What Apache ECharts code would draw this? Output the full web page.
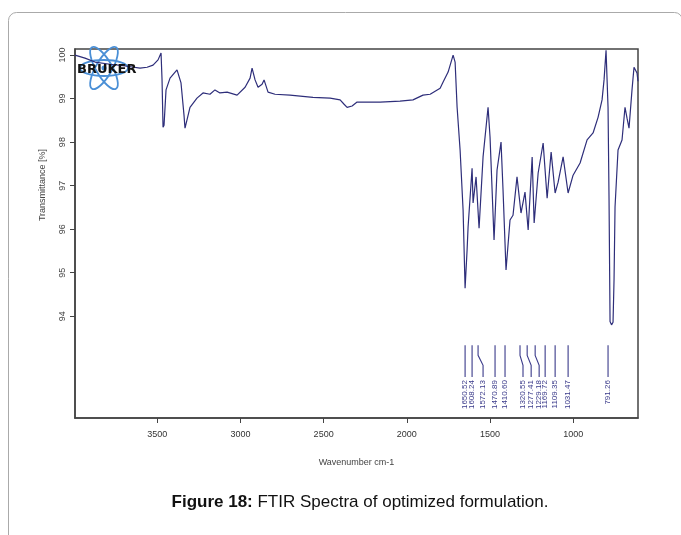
<!DOCTYPE html>
<html>
<head>
<meta charset="utf-8">
<script src="https://cdn.jsdelivr.net/npm/echarts@6/dist/echarts.min.js"></script>
<style>
html,body{margin:0;padding:0;background:#fff;}
#chart{width:681px;height:535px;}
</style>
</head>
<body>
<div id="chart"></div>
<script>
// Wavenumber (cm-1) and transmittance (%)
const wavenumber = [3994,3934,3874,3784,3693,3603,3561,3525,3495,3477,3471,3465,3459,3447,3423,3381,3357,3339,3333,3321,3303,3261,3225,3183,3153,3123,3080,3020,2972,2942,2930,2912,2894,2870,2858,2834,2792,2702,2564,2461,2401,2377,2359,2329,2299,2161,2041,1963,1903,1860,1800,1782,1752,1722,1710,1698,1680,1662,1650,1638,1632,1608,1602,1584,1566,1542,1512,1500,1476,1458,1434,1422,1404,1380,1362,1338,1314,1290,1271,1247,1235,1211,1181,1157,1133,1109,1091,1061,1031,1001,959,917,881,851,827,815,803,791,785,779,770,761,755,749,731,707,689,677,665,647,635,617,611];
const transmittance = [100.00,99.93,99.84,99.79,99.75,99.70,99.72,99.77,99.89,100.05,99.43,98.34,98.39,99.20,99.47,99.66,99.36,98.62,98.32,98.51,98.80,99.01,99.13,99.10,99.20,99.13,99.15,99.08,99.26,99.47,99.70,99.43,99.26,99.33,99.43,99.15,99.10,99.08,99.03,99.01,98.97,98.87,98.80,98.83,98.92,98.92,98.94,98.97,99.08,99.10,99.24,99.38,99.61,100.00,99.84,98.80,97.82,96.44,94.64,95.52,96.05,97.40,96.60,97.20,96.02,97.66,98.80,98.11,95.75,97.36,98.00,96.90,95.06,96.21,96.32,97.20,96.37,96.85,95.98,97.66,96.14,97.29,97.98,96.71,97.77,96.83,97.08,97.66,96.83,97.24,97.52,98.05,98.21,98.57,98.97,99.43,100.11,98.80,96.67,93.88,93.80,93.86,94.83,96.51,97.82,98.05,98.80,98.55,98.32,99.20,99.72,99.59,99.40];

// Peak picking annotations
const peakWn      = [1650,1608,1572,1470,1410,1320,1277,1229,1169,1109,1031,791];
const peakLabelWn = [1650,1608,1542,1470,1410,1302,1253,1205,1169,1109,1031,791];
const peakLabels  = ['1650.52','1608.24','1572.13','1470.89','1410.60','1320.55','1277.41','1229.18','1169.72','1109.35','1031.47','791.26'];

// Axis ticks
const xTicks = [3500,3000,2500,2000,1500,1000];
const yTicks = [94,95,96,97,98,99,100];

const spectrum = wavenumber.map((w,i)=>[w, transmittance[i]]);
const peaks = peakWn.map((w,i)=>[w, peakLabelWn[i], peakLabels[i]]);

const chart = echarts.init(document.getElementById('chart'), null, {renderer:'canvas'});
const lineColor = '#2e2e7a';

chart.setOption({
  animation:false,
  backgroundColor:'#fff',
  grid:{left:75,right:43,top:49,bottom:117,show:true,borderColor:'#444',borderWidth:1.5,backgroundColor:'transparent'},
  xAxis:{
    type:'value', inverse:true, min:611, max:3994,
    name:'Wavenumber cm-1', nameLocation:'middle', nameGap:40,
    nameTextStyle:{fontSize:9,color:'#444',fontFamily:'Liberation Sans'},
    axisLine:{show:true,lineStyle:{color:'#444',width:1.5}},
    axisTick:{show:true,length:5,lineStyle:{color:'#444'},customValues:xTicks},
    axisLabel:{fontSize:9,color:'#333',margin:12,fontFamily:'Liberation Sans',customValues:xTicks,formatter:v=>String(v)},
    splitLine:{show:false}
  },
  yAxis:{
    type:'value', min:91.66, max:100.14,
    axisLine:{show:true,lineStyle:{color:'#444',width:1.5}},
    axisTick:{show:true,length:5,lineStyle:{color:'#444'},customValues:yTicks},
    axisLabel:{fontSize:9,color:'#444',rotate:90,margin:8,fontFamily:'Liberation Sans',customValues:yTicks,formatter:v=>String(v)},
    splitLine:{show:false}
  },
  series:[
    {
      type:'line', data:spectrum, showSymbol:false, smooth:false,
      lineStyle:{color:lineColor,width:1.2}, z:3
    },
    {
      type:'custom', data:peaks, z:4,
      renderItem:function(params, api){
        const w = api.value(0), lw = api.value(1);
        const txt = peakLabels[params.dataIndex];
        const pTop = api.coord([w, 93.33]);
        const pK1 = api.coord([w, 93.10]);
        const pK2 = api.coord([lw, 92.87]);
        const pBot = api.coord([lw, 92.60]);
        const pTxt = api.coord([lw, 92.53]);
        return {
          type:'group',
          children:[
            {type:'polyline', shape:{points:[pTop,pK1,pK2,pBot]}, style:{stroke:'#3a3a8a',lineWidth:1.1,fill:null}},
            {type:'text', x:pTxt[0], y:pTxt[1], rotation:Math.PI/2,
             style:{text:txt, fontSize:8, fontFamily:'Liberation Sans', fill:'#3a3a8a', align:'right', verticalAlign:'middle'}}
          ]
        };
      }
    }
  ],
  graphic:[
    {type:'rect', left:6, top:10, shape:{width:674,height:540,r:8}, style:{fill:null,stroke:'#aaa',lineWidth:1}, z:-10, silent:true},
    {type:'text', x:43, y:185, rotation:Math.PI/2,
     style:{text:'Transmittance [%]', fontSize:9, fill:'#444', fontFamily:'Liberation Sans', align:'center', verticalAlign:'middle'}},
    {type:'group', x:104, y:68, z:10, children:[
      {type:'ellipse', shape:{cx:0,cy:0,rx:24,ry:8}, style:{fill:null,stroke:'#4a8fd6',lineWidth:1.8}},
      {type:'ellipse', shape:{cx:0,cy:0,rx:24,ry:8}, rotation:Math.PI/3, style:{fill:null,stroke:'#4a8fd6',lineWidth:1.8}},
      {type:'ellipse', shape:{cx:0,cy:0,rx:24,ry:8}, rotation:-Math.PI/3, style:{fill:null,stroke:'#4a8fd6',lineWidth:1.8}},
      {type:'circle', shape:{cx:0,cy:0,r:2.5}, style:{fill:'#4a8fd6'}}
    ]},
    {type:'text', x:77, y:70, z:11,
     style:{text:'BRUKER', fontSize:13, fontWeight:'bold', fontFamily:'DejaVu Sans', fill:'#111', align:'left', verticalAlign:'middle'}},
    {type:'text', x:360, y:502,
     style:{rich:{b:{fontWeight:'bold',fontSize:17,fontFamily:'Liberation Sans',fill:'#111'},n:{fontSize:17,fontFamily:'Liberation Sans',fill:'#111'}},
            text:'{b|Figure 18:}{n| FTIR Spectra of optimized formulation.}', align:'center', verticalAlign:'middle'}}
  ]
});
</script>
</body>
</html>
